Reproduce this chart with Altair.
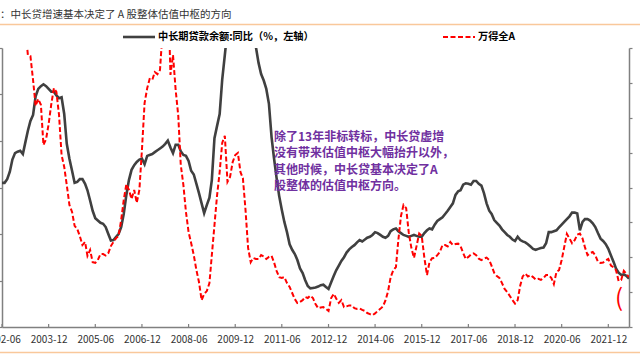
import altair as alt
import pandas as pd

FONT = "Noto Sans CJK SC"

# monthly observations, 2002-06 .. 2022-08
months = pd.date_range("2002-06-01", periods=243, freq="MS").strftime("%Y-%m-%d").tolist()

# 中长期贷款余额:同比 (%, left axis)
loan_growth = [
    20.5, 20.5, 20.9, 21.7, 23.0, 23.7, 23.85, 23.95, 23.6, 24.8,
    26.1, 27.15, 27.8, 29.8, 30.6, 30.9, 31.1, 30.9, 30.6, 30.3,
    30.3, 29.9, 29.6, 29.7, 27.9, 24.7, 23.1, 21.8, 20.5, 20.6,
    20.9, 20.9, 20.4, 19.7, 18.6, 17.5, 16.7, 16.45, 16.2, 16.1,
    15.75, 15.0, 14.3, 14.35, 14.7, 15.0, 15.75, 17.15, 19.2, 20.8,
    21.9, 22.4, 22.75, 23.0, 23.1, 22.5, 23.4, 23.5, 23.6, 23.8,
    24.0, 24.2, 24.4, 24.7, 25.05, 24.3, 23.7, 24.6, 24.6, 23.9,
    23.5, 23.4, 22.85, 21.8, 21.4, 20.4, 19.4, 18.3, 17.25, 18.1,
    18.9, 20.8, 25.3, 26.6, 27.9, 31.6, 34.25, 37.0, 38.5, 39.5,
    40.2, 40.5, 40.3, 39.8, 38.8, 37.8, 36.8, 35.9, 35.1, 33.4,
    32.2, 31.5, 30.6, 29.0, 25.4, 23.2, 21.0, 19.1, 17.6, 16.3,
    15.2, 13.9, 13.3, 12.85, 12.2, 11.3, 10.8, 10.05, 9.4, 9.15,
    9.2, 9.25, 9.35, 9.5, 9.55, 9.3, 9.1, 9.8, 10.5, 11.1,
    11.6, 12.1, 12.5, 13.0, 13.35, 13.6, 13.8, 14.1, 14.35, 14.2,
    14.4, 14.6, 14.7, 14.9, 15.2, 15.1, 14.9, 14.7, 14.6, 14.8,
    15.3, 15.5, 15.6, 15.3, 15.1, 14.9, 14.8, 14.7, 14.8, 14.9,
    14.8, 14.7, 14.7, 15.1, 15.4, 15.6, 15.5, 16.0, 16.4, 16.6,
    16.8, 17.15, 17.5, 17.9, 18.3, 19.2, 19.6, 19.7, 20.3, 20.45,
    20.4, 20.3, 20.7, 20.7, 20.4, 20.2, 19.4, 18.3, 17.5, 17.15,
    16.5, 16.2, 15.9, 15.5, 15.2, 14.9, 14.7, 14.4, 14.25, 14.7,
    14.35, 14.2, 14.1, 13.9, 13.65, 13.4, 13.3, 13.4, 13.5, 13.55,
    14.0, 15.2, 15.2, 15.3, 15.4, 15.7, 16.0, 16.3, 16.6, 16.9,
    17.3, 17.3, 17.2, 15.4, 16.3, 16.6, 16.6, 16.45, 16.15, 15.75,
    15.1, 14.5, 14.25, 13.9, 13.4, 12.7, 12.0, 11.3, 10.85, 10.6,
    10.65, 10.5, 10.2,
]

# 万得全A (right axis)
wind_all_a = [
    95, 96, 97, 96, 95, 94, 93, 92, 90, 86,
    78.0, 77.7, 70.8, 63.4, 65.4, 63.7, 52.2, 53.9, 58.2, 63.9,
    68.5, 67.4, 60.8, 49.3, 45.9, 40.7, 35.0, 33.0, 29.0, 28.1,
    26.1, 23.5, 24.4, 20.4, 22.1, 18.6, 18.4, 19.2, 20.9, 20.9,
    20.5, 21.2, 23.2, 24.4, 25.5, 26.1, 30.7, 36.4, 41.0, 39.3,
    36.7, 39.3, 35.6, 39.3, 50.8, 64.2, 68.5, 71.1, 70.8, 73.1,
    72.5, 73.7, 85, 95, 100, 72.3, 78.0, 68.0, 60.5, 46.5,
    40.7, 33.0, 27.2, 24.1, 20.6, 16.3, 12.9, 7.7, 9.5, 10.3,
    12.6, 20.6, 29.2, 37.6, 44.4, 52.8, 54.8, 41.6, 43.0, 47.3,
    49.3, 49.9, 44.4, 42.7, 33.5, 22.7, 18.6, 19.8, 19.5, 19.5,
    20.6, 20.2, 19.5, 20.1, 20.4, 18.6, 16.1, 14.3, 14.05, 14.3,
    12.6, 11.5, 9.75, 8.0, 6.9, 7.2, 7.7, 8.6, 8.3, 9.0,
    8.3, 6.6, 5.4, 5.6, 5.7, 5.2, 4.6, 8.3, 9.5, 8.2,
    6.9, 7.7, 5.7, 5.9, 6.2, 6.2, 5.4, 5.2, 5.3, 4.9,
    4.6, 4.0, 3.7, 3.4, 3.9, 4.6, 5.2, 5.9, 7.6, 10.3,
    14.3, 16.3, 17.2, 24.9, 31.8, 35.0, 34.1, 27.2, 22.7, 19.8,
    23.2, 26.8, 26.1, 19.8, 14.9, 18.6, 19.7, 19.8, 20.6, 21.5,
    23.5, 23.5, 23.1, 24.4, 23.5, 23.8, 23.9, 23.2, 21.2, 19.5,
    20.1, 20.8, 21.1, 20.6, 19.6, 19.2, 19.6, 19.9, 19.2, 17.5,
    15.5, 14.6, 14.05, 12.6, 10.9, 10.0, 8.9, 7.7, 6.7, 7.7,
    12.0, 14.5, 15.3, 14.5, 14.9, 14.3, 13.6, 13.8, 13.5, 14.05,
    14.9, 14.9, 14.05, 12.3, 15.8, 16.3, 19.2, 22.9, 26.7, 25.4,
    24.0, 24.9, 26.5, 26.8, 25.4, 22.9, 20.6, 21.2, 21.5, 20.6,
    18.7, 18.35, 18.5, 19.1, 19.5, 17.6, 17.1, 16.3, 13.2, 13.5,
    16.1, 15.2, 14.3,
]

tick_labels = ["2002-06", "2003-12", "2005-06", "2006-12", "2008-06", "2009-12", "2011-06",
               "2012-12", "2014-06", "2015-12", "2017-06", "2018-12", "2020-06", "2021-12"]
left_ticks = [5, 10, 15, 20, 25, 30, 35]
right_ticks = [0, 10, 20, 30, 40, 50, 60, 70, 80]

title_text = "：中长贷增速基本决定了 A 股整体估值中枢的方向"
legend_loan = "中长期贷款余额:同比（%，左轴）"
legend_wind = "万得全A"
note_lines = ["除了13年非标转标，中长贷虚增", "没有带来估值中枢大幅抬升以外，",
              "其他时候，中长贷基本决定了A", "股整体的估值中枢方向。"]

df = pd.DataFrame({"date": months, "loan": loan_growth, "wind": wind_all_a})
ticks_df = pd.DataFrame({"date": [t + "-01" for t in tick_labels]})
one = pd.DataFrame({"k": [0]})

W, H = 627, 279
AX = "#808080"


def dt(s):
    y, m = s.split("-")[:2]
    return alt.DateTime(year=int(y), month=int(m), date=1, utc=True)


xenc = alt.X(
    "date:T",
    scale=alt.Scale(type="utc", domain=[dt("2002-06"), dt("2022-08")], nice=False),
    axis=alt.Axis(values=[dt(t) for t in tick_labels],
                  labelExpr="utcFormat(datum.value, '%Y-%m')",
                  title=None, ticks=False, labelPadding=7, labelFontSize=10,
                  labelColor="#333333", labelFont=FONT, domainColor=AX, domainWidth=1.5,
                  grid=False, labelOverlap=False, labelFlush=False, labelBound=False),
)

loan = alt.Chart(df).mark_line(color="#404040", strokeWidth=2.6, clip=True).encode(
    x=xenc,
    y=alt.Y("loan:Q", scale=alt.Scale(domain=[5, 35], nice=False, zero=False),
            axis=alt.Axis(orient="left", values=left_ticks, labels=False, title=None,
                          tickSize=3, tickColor=AX, domainColor=AX, domainWidth=1.5,
                          tickWidth=1.2, grid=False)),
)

wind = alt.Chart(df).mark_line(color="#FF0000", strokeWidth=2, strokeDash=[5, 2.5], clip=True).encode(
    x=xenc,
    y=alt.Y("wind:Q", scale=alt.Scale(domain=[0, 80], nice=False, zero=False),
            axis=alt.Axis(orient="right", values=right_ticks, labels=False, title=None,
                          tickSize=3, tickColor=AX, domainColor=AX, domainWidth=1.5,
                          tickWidth=1.2, grid=False)),
)

xticks = alt.Chart(ticks_df).mark_rule(color=AX, strokeWidth=1.2).encode(
    x=xenc, y=alt.value(H - 3), y2=alt.value(H)
)


def text(s, x, y, **kw):
    return alt.Chart(one).mark_text(text=s, font=FONT, align="left", **kw).encode(
        x=alt.value(x), y=alt.value(y))


def hrule(x1, x2, y, **kw):
    return alt.Chart(one).mark_rule(**kw).encode(x=alt.value(x1), x2=alt.value(x2), y=alt.value(y))


title = text(title_text, -2, -33, baseline="middle", fontSize=10.5, color="#333333")
top_line = hrule(-2, 640, -23.5, color="#F9C89B", strokeWidth=1.5)
bottom_line = hrule(-2, 640, 304.5, color="#F9C89B", strokeWidth=1.5)

leg1_line = hrule(121, 153, -11, color="#404040", strokeWidth=2.6)
leg1_text = text(legend_loan, 156, -11, baseline="middle", fontSize=10.2, fontWeight="bold", color="#000000")
leg2_line = hrule(441, 473, -11, color="#FF0000", strokeWidth=2, strokeDash=[5, 2.5])
leg2_text = text(legend_wind, 476, -11, baseline="middle", fontSize=10.2, fontWeight="bold", color="#000000")

note = text(note_lines, 272, 84, baseline="top", fontSize=12, fontWeight="bold",
            color="#7030A0", lineHeight=16.3)

# hand-drawn red circling mark near the latest data
hand_mark = text("(", 613, 251, baseline="middle", fontSize=24, color="#FF0000")

chart = alt.layer(
    loan, wind, xticks, title, top_line, bottom_line,
    leg1_line, leg1_text, leg2_line, leg2_text, note, hand_mark,
).resolve_scale(y="independent").properties(
    width=W, height=H,
    autosize=alt.AutoSizeParams(type="none"),
    padding={"left": 2, "top": 48, "right": 11, "bottom": 27},
    background="white",
).configure_view(stroke=None)

chart.save("out.html", embed_options={"renderer": "svg", "actions": False})
